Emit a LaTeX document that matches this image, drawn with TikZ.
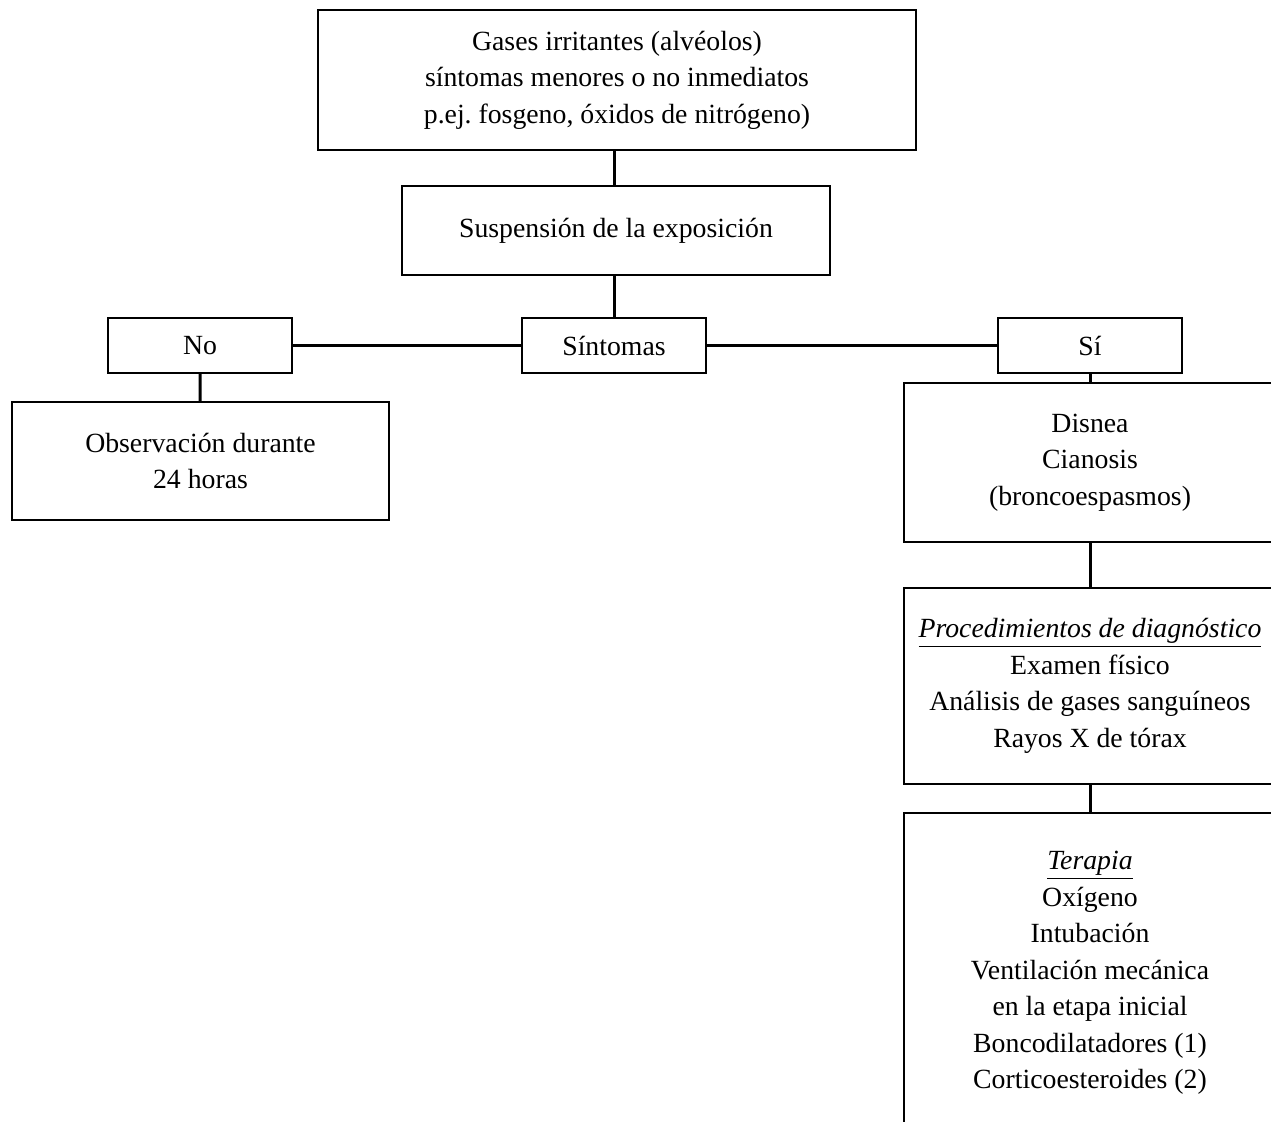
\documentclass[tikz,border=0pt]{standalone}
\usepackage{fontspec}
\setmainfont{Liberation Serif}
\frenchspacing
\tikzset{
  caja/.style={draw, line width=0.8pt, align=center, inner sep=0pt,
    font=\fontsize{15.8}{20.8}\selectfont},
  enlace/.style={line width=1.7pt}
}
\begin{document}
\begin{tikzpicture}[x=0.02cm, y=-0.02cm]
    \useasboundingbox (0,0) rectangle (1271,1122);
    \clip (0,0) rectangle (1271,1122);
	% cajas
	\node[caja, minimum width=11.96cm, minimum height=2.8cm] (gases) at (617,80)
		{Gases irritantes (alvéolos)\\ síntomas menores o no inmediatos\\ p.ej. fosgeno, óxidos de nitrógeno)};
	\node[caja, minimum width=8.56cm, minimum height=1.78cm] (suspension) at (616,230.5)
		{Suspensión de la exposición};
	\node[caja, minimum width=3.68cm, minimum height=1.1cm] (sintomas) at (614,345.5) {Síntomas};
	\node[caja, minimum width=3.68cm, minimum height=1.1cm] (no) at (200,345.5) {No};
	\node[caja, minimum width=3.68cm, minimum height=1.1cm] (si) at (1090,345.5) {Sí};
	\node[caja, minimum width=7.54cm, minimum height=2.36cm] (observacion) at (200.5,461)
		{Observación durante\\ 24 horas};
	\node[caja, minimum width=7.44cm, minimum height=3.18cm] (disnea) at (1090,462.5)
		{Disnea\\ Cianosis\\ (broncoespasmos)};
	\node[caja, minimum width=7.44cm, minimum height=3.92cm] (diagnostico) at (1090,686)
		{\underline{\textit{Procedimientos de diagnóstico}}\\ Examen físico\\
		 Análisis de gases sanguíneos\\ Rayos X de tórax};
	\node[caja, minimum width=7.44cm, minimum height=6.4cm] (terapia) at (1090,973)
		{\underline{\textit{Terapia}}\\ Oxígeno\\ Intubación\\ Ventilación mecánica\\
		 en la etapa inicial\\ Boncodilatadores (1)\\ Corticoesteroides (2)};
	% enlaces
	\draw[enlace] (gases.south -| sintomas) -- (suspension.north -| sintomas);
	\draw[enlace] (suspension.south -| sintomas) -- (sintomas);
	\foreach \lado in {no, si}
		\draw[enlace] (sintomas) -- (\lado);
	\draw[enlace] (no) -- (observacion);
	\draw[enlace] (si) -- (disnea);
	\draw[enlace] (disnea) -- (diagnostico);
	\draw[enlace] (diagnostico) -- (terapia);
\end{tikzpicture}
\end{document}
